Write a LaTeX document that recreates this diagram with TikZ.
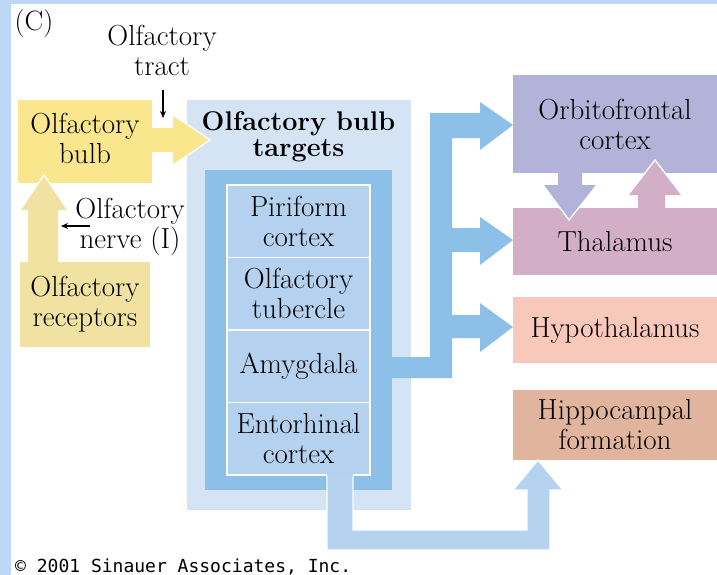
\documentclass[tikz,border=0pt]{standalone}
\usepackage{fontspec}
\setmonofont{DejaVu Sans Mono}
\usetikzlibrary{arrows.meta}
\definecolor{bgblue}{HTML}{BDD8F6}
\definecolor{bulbY}{HTML}{FAE68C}
\definecolor{recY}{HTML}{F2E2A2}
\definecolor{outerB}{HTML}{D4E4F5}
\definecolor{frameB}{HTML}{8DC0E8}
\definecolor{cellB}{HTML}{B4D2EF}
\definecolor{hipArr}{HTML}{B5D3EE}
\definecolor{orbC}{HTML}{B3B3DA}
\definecolor{thalC}{HTML}{D2AFC7}
\definecolor{hypoC}{HTML}{F8C9BB}
\definecolor{hippC}{HTML}{E1B59D}
\begin{document}
\begin{tikzpicture}[x=1pt,y=-1pt,
  lbl/.style={font=\fontsize{29}{30}\selectfont, align=center, inner sep=0pt},
  region/.style={lbl, rectangle, draw=none},
  cellbox/.style={region, fill=cellB, draw=white, line width=1.5pt, minimum width=143pt, minimum height=72.5pt},
  rbox/.style={region, minimum width=204pt},
  pointer/.style={line width=1.1pt, -{Stealth[length=7pt,width=6pt]}},
  edgeline/.style={draw=white, line width=1.3pt, line join=miter}]
\useasboundingbox (0,0) rectangle (717,575);
\fill[bgblue] (0,0) rectangle (717,575);
\fill[white] (11,4) rectangle (717,575);

% (C)
\node[lbl, font=\fontsize{28}{28}\selectfont] (panel) at (34,24) {(C)};

% targets block
\node[region, fill=outerB, minimum width=224pt, minimum height=410pt] (outer) at (299,305) {};
\node[region, fill=frameB, minimum width=187pt, minimum height=320pt] (frame) at (298.5,330) {};
\node[cellbox] (piri) at (298.5,221.25) {Piriform\\cortex};
\node[cellbox] (tuber) at (298.5,293.75) {Olfactory\\tubercle};
\node[cellbox] (amyg) at (298.5,366.25) {Amygdala};
\node[cellbox] (ento) at (298.5,438.75) {Entorhinal\\cortex};
\node[lbl, font=\bfseries\fontsize{27}{26}\selectfont] (title) at (298.5,137) {Olfactory bulb\\targets};

% olfactory bulb + arrow to targets
\fill[bulbY] (150,128) -- (173,128) -- (173,115) -- (210,140) -- (173,165) -- (173,152) -- (150,152) -- cycle;
\draw[edgeline] (173,115) -- (210,140) -- (173,165);
\node[region, fill=bulbY, minimum width=134pt, minimum height=83pt] (bulb) at (85,141.5) {};
\node[lbl] (bulbtext) at (85,138) {Olfactory\\bulb};

% receptors + up arrow
\node[region, fill=recY, minimum width=130pt, minimum height=85pt] (recep) at (85,304.5) {Olfactory\\receptors};
\fill[recY] (28,263) -- (28,210) -- (20,210) -- (44,175) -- (68,210) -- (58,210) -- (58,263) -- cycle;
\draw[edgeline] (20,210) -- (44,175) -- (68,210);

% right-hand boxes
\node[rbox, fill=orbC, minimum height=98pt] (orb) at (615,124) {Orbitofrontal\\cortex};
\node[rbox, fill=thalC, minimum height=67pt] (thal) at (615,241.5) {Thalamus};
\node[rbox, fill=hypoC, minimum height=66pt] (hypo) at (615,330) {Hypothalamus};
\node[rbox, fill=hippC, minimum height=70pt] (hipp) at (615,425) {Hippocampal\\formation};

% orbitofrontal <-> thalamus arrows
\fill[orbC] (558,172) -- (582,172) -- (582,185) -- (597,185) -- (569,220) -- (543,185) -- (558,185) -- cycle;
\draw[edgeline] (543,185) -- (569,220) -- (597,185);
\fill[thalC] (638,209) -- (638,195) -- (628,195) -- (655,160) -- (682,195) -- (665,195) -- (665,209) -- cycle;
\draw[edgeline] (628,195) -- (655,160) -- (682,195);

% medium blue comb from amygdala
\fill[frameB] (430,113) -- (480,113) -- (480,102) -- (513,125) -- (480,150) -- (480,138) -- (452,138)
  -- (452,228) -- (480,228) -- (480,217) -- (513,240) -- (480,265) -- (480,252) -- (452,252)
  -- (452,315) -- (480,315) -- (480,303) -- (513,327) -- (480,352) -- (480,338) -- (452,338)
  -- (452,378) -- (391,378) -- (391,357) -- (430,357) -- cycle;

% entorhinal -> hippocampal
\fill[hipArr] (327,474) -- (353,474) -- (353,530) -- (527,530) -- (527,490) -- (513,490) -- (538,460)
  -- (563,490) -- (550,490) -- (550,550) -- (327,550) -- cycle;
\draw[edgeline] (327,476) -- (327,550) -- (550,550) -- (550,490) -- (563,490) -- (538,460) -- (513,490)
  -- (527,490) -- (527,530) -- (353,530) -- (353,476);

% labels with thin arrows
\node[lbl] (tract) at (162,50) {Olfactory\\tract};
\coordinate (tractA) at (163,90);
\coordinate (tractB) at (163,118);
\draw[pointer] (tractA) -- (tractB);
\node[lbl] (nerve) at (130,226.5) {Olfactory\\nerve (I)};
\coordinate (nerveA) at (90,226);
\coordinate (nerveB) at (61,226);
\draw[pointer] (nerveA) -- (nerveB);

% copyright
\node[anchor=base west, inner sep=0pt, font=\ttfamily\fontsize{18}{18}\selectfont] (copy) at (15,572) {© 2001 Sinauer Associates, Inc.};
\end{tikzpicture}
\end{document}
